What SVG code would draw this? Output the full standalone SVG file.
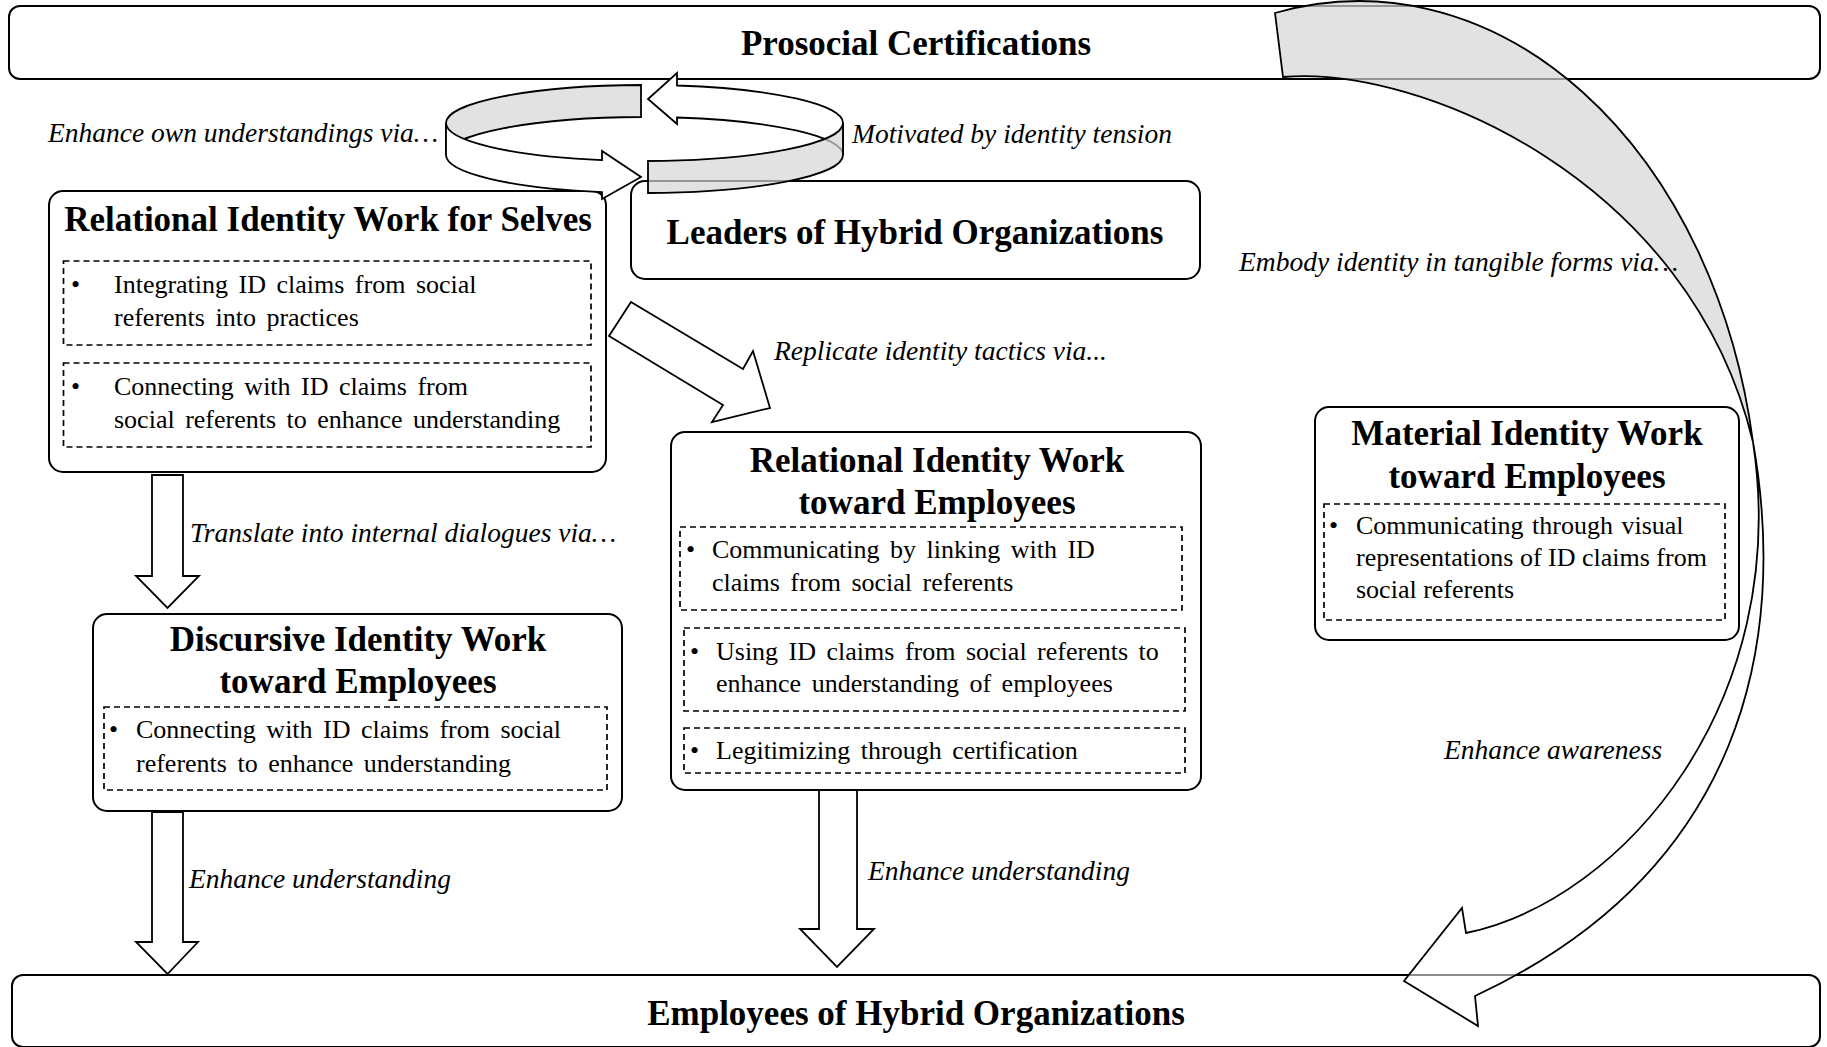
<svg xmlns="http://www.w3.org/2000/svg" width="1827" height="1047" viewBox="0 0 1827 1047">
  <style>
    .box{fill:#fff;stroke:#000;stroke-width:2}
    .dash{fill:none;stroke:#000;stroke-width:1.7;stroke-dasharray:6 4}
    text{font-family:"Liberation Serif","Times New Roman",serif;fill:#000}
    .ttl{font-weight:bold;font-size:35px;text-anchor:middle}
    .txt{font-size:26px;word-spacing:4px}
    .txt0{font-size:26px}
    .lbl{font-style:italic;font-size:27.5px}
    .blk{fill:#fff;stroke:#000;stroke-width:1.8;stroke-linejoin:miter}
    .shade{fill:#d6d6d6;fill-opacity:.7;stroke:#000;stroke-width:1.8;stroke-linejoin:miter}
    .ghost{fill:#fff;fill-opacity:.55;stroke:#000;stroke-width:1.8;stroke-linejoin:miter}
  </style>
  <rect width="1827" height="1047" fill="#fff"/>

  <!-- nodes -->
  <g id="prosocial-certifications">
    <rect class="box" x="9" y="6" width="1811" height="73" rx="11"/>
    <text class="ttl" x="916" y="55">Prosocial Certifications</text>
  </g>

  <g id="leaders">
    <rect class="box" x="631" y="181" width="569" height="98" rx="14"/>
    <text class="ttl" x="915" y="244">Leaders of Hybrid Organizations</text>
  </g>

  <g id="relational-selves">
    <rect class="box" x="49" y="191" width="557" height="281" rx="14"/>
    <text class="ttl" x="328" y="231">Relational Identity Work for Selves</text>
    <rect class="dash" x="63.5" y="261" width="527.5" height="84"/>
    <text class="txt0" x="71" y="293">•</text>
    <text class="txt" x="114" y="293">Integrating ID claims from social</text>
    <text class="txt" x="114" y="326">referents into practices</text>
    <rect class="dash" x="63.5" y="363" width="527.5" height="84"/>
    <text class="txt0" x="71" y="395">•</text>
    <text class="txt" x="114" y="395">Connecting with ID claims from</text>
    <text class="txt" x="114" y="428">social referents to enhance understanding</text>
  </g>

  <g id="discursive-employees">
    <rect class="box" x="93" y="614" width="529" height="197" rx="14"/>
    <text class="ttl" x="358" y="651">Discursive Identity Work</text>
    <text class="ttl" x="358" y="693">toward Employees</text>
    <rect class="dash" x="104" y="707" width="503" height="83"/>
    <text class="txt0" x="109" y="738">•</text>
    <text class="txt" x="136" y="738">Connecting with ID claims from social</text>
    <text class="txt" x="136" y="772">referents to enhance understanding</text>
  </g>

  <g id="relational-employees">
    <rect class="box" x="671" y="432" width="530" height="358" rx="14"/>
    <text class="ttl" x="937" y="472">Relational Identity Work</text>
    <text class="ttl" x="937" y="514">toward Employees</text>
    <rect class="dash" x="680" y="527" width="502" height="83"/>
    <text class="txt0" x="686" y="558">•</text>
    <text class="txt" x="712" y="558">Communicating by linking with ID</text>
    <text class="txt" x="712" y="591">claims from social referents</text>
    <rect class="dash" x="684" y="628" width="501" height="83"/>
    <text class="txt0" x="690" y="660">•</text>
    <text class="txt" x="716" y="660">Using ID claims from social referents to</text>
    <text class="txt" x="716" y="692">enhance understanding of employees</text>
    <rect class="dash" x="684" y="728" width="501" height="45"/>
    <text class="txt0" x="690" y="759">•</text>
    <text class="txt" x="716" y="759">Legitimizing through certification</text>
  </g>

  <g id="material-employees">
    <rect class="box" x="1315" y="407" width="424" height="233" rx="14"/>
    <text class="ttl" x="1527" y="445">Material Identity Work</text>
    <text class="ttl" x="1527" y="488">toward Employees</text>
    <rect class="dash" x="1324" y="504" width="401" height="116"/>
    <text class="txt0" x="1329" y="534">•</text>
    <text class="txt0" x="1356" y="534" word-spacing="2">Communicating through visual</text>
    <text class="txt0" x="1356" y="566">representations of ID claims from</text>
    <text class="txt0" x="1356" y="598">social referents</text>
  </g>

  <g id="employees">
    <rect class="box" x="12" y="975" width="1808" height="72" rx="11"/>
    <text class="ttl" x="916" y="1025">Employees of Hybrid Organizations</text>
  </g>

  <!-- connectors -->
  <g id="connectors">
    <!-- twisted loop above the leaders box -->
    <path class="shade" d="M641,85 A198.5,38 0 0 0 446,123 L446,155 A198.5,38 0 0 1 641,117 Z"/>
    <path class="blk" d="M677,85.5 A198.5,38 0 0 1 843,123 L843,155 A198.5,38 0 0 0 677,117.5 L677,124 L648,99 L677,73 Z"/>
    <path class="blk" d="M446,123 A198.5,38 0 0 0 602,160.1 L602,151 L641,177 L602,199 L602,192.1 A198.5,38 0 0 1 446,155 Z"/>
    <path class="shade" d="M648,161 A198.5,38 0 0 0 843,123 L843,155 A198.5,38 0 0 1 648,193 Z"/>

    <!-- selves to relational work toward employees -->
    <polygon class="blk" points="631,302 743,369 753,351 770,408 712,422 723,405 609,336"/>

    <!-- selves to discursive -->
    <polygon class="blk" points="152,475 183,475 183,576 199,576 167.5,608 136,576 152,576"/>
    <!-- discursive to employees -->
    <polygon class="blk" points="152,812 183,812 183,942 198,942 167.5,974 136,942 152,942"/>
    <!-- relational toward employees to employees -->
    <polygon class="blk" points="819,790 857,790 857,929 874,929 837,967 800,929 819,929"/>

    <!-- large sweep from certifications down to employees -->
    <path class="shade" d="M1275,13 A400,533 0 0 1 1753,442 C1690,180 1420,65 1283,77 Z"/>
    <path class="ghost" d="M1753,442 C1788,640 1745,870 1475,996 L1478,1026 L1404,981 L1462,908 L1466,933 C1625,900 1792,700 1753,442 Z"/>
  </g>

  <!-- connector labels -->
  <g id="labels">
    <text class="lbl" x="48" y="142">Enhance own understandings via…</text>
    <text class="lbl" x="852" y="143">Motivated by identity tension</text>
    <text class="lbl" x="1239" y="271">Embody identity in tangible forms via…</text>
    <text class="lbl" x="774" y="360">Replicate identity tactics via...</text>
    <text class="lbl" x="190" y="542">Translate into internal dialogues via…</text>
    <text class="lbl" x="189" y="888">Enhance understanding</text>
    <text class="lbl" x="868" y="880">Enhance understanding</text>
    <text class="lbl" x="1444" y="759">Enhance awareness</text>
  </g>
</svg>
